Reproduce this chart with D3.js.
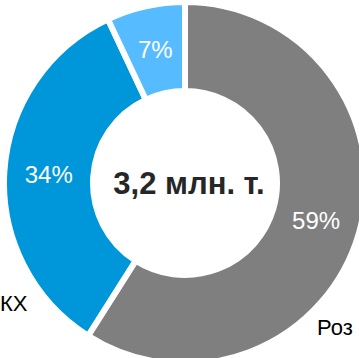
<!DOCTYPE html>
<html>
<head>
<meta charset="utf-8">
<script src="https://cdn.jsdelivr.net/npm/d3@7"></script>
<style>
  body { margin: 0; background: #fff; }
  svg { display: block; font-family: "Liberation Sans", Arial, sans-serif; }
</style>
</head>
<body>
<div id="chart"></div>
<script>
// shares, clockwise from 12 o'clock
const categories = ['Роз', 'КХ', 'Другое'];
const shares = [59, 34, 7];
const sliceColors = ['#7f7f7f', '#0096da', '#57bcff'];
const totalLabel = '3,2 млн. т.';

const width = 359;
const height = 358;
const cx = 185;
const cy = 183;

const svg = d3.select('#chart')
    .append('svg')
    .attr('width', width)
    .attr('height', height);

const ctr = svg.append('g')
    .attr('transform', `translate(${cx},${cy})`);

const pie = d3.pie()
    .sort(null)
    .value((d) => d);

const arc = d3.arc()
    .innerRadius(92)
    .outerRadius(181);

const slices = pie(shares);

ctr.selectAll('path')
    .data(slices)
    .join('path')
    .attr('d', arc)
    .attr('fill', (d, i) => sliceColors[i])
    .attr('stroke', '#fff')
    .attr('stroke-width', 6)
    .attr('stroke-linejoin', 'miter');

ctr.selectAll('text.pct')
    .data(slices)
    .join('text')
    .attr('class', 'pct')
    .attr('x', (d) => arc.centroid(d)[0])
    .attr('y', (d) => arc.centroid(d)[1])
    .attr('dy', '0.35em')
    .attr('text-anchor', 'middle')
    .attr('fill', '#fff')
    .style('font-size', '24px')
    .text((d) => d.value + '%');

ctr.append('text')
    .attr('x', 4)
    .attr('y', 0)
    .attr('dy', '0.35em')
    .attr('text-anchor', 'middle')
    .attr('fill', '#262626')
    .style('font-size', '31px')
    .style('font-weight', 'bold')
    .text(totalLabel);

// outside labels, sitting on the picture edge
svg.append('text')
    .attr('x', 0)
    .attr('y', 311)
    .attr('fill', '#000')
    .style('font-size', '22px')
    .text(categories[1]);

svg.append('text')
    .attr('x', 317)
    .attr('y', 335)
    .attr('fill', '#000')
    .style('font-size', '22px')
    .text(categories[0]);
</script>
</body>
</html>
